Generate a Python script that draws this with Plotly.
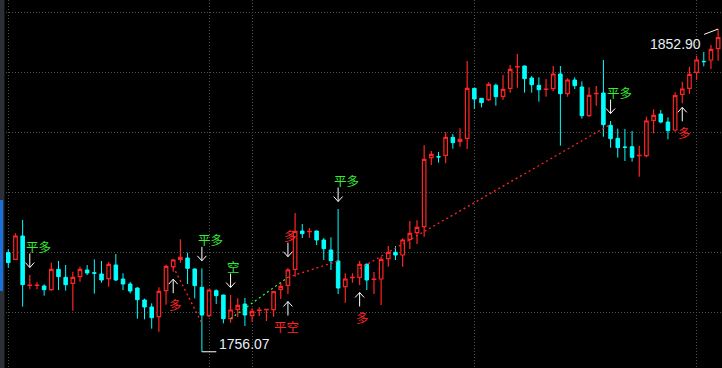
import plotly.graph_objects as go

# ---------------- data (prices) ----------------
opens = [1785.8, 1783.8, 1790.8, 1776.0, 1776.0, 1775.8, 1774.7, 1780.8, 1778.4, 1776.6,
         1778.6, 1780.6, 1779.8, 1779.4, 1778.0, 1782.1, 1777.9, 1776.4, 1775.2, 1771.6,
         1769.5, 1766.6, 1774.4, 1781.6, 1783.8, 1784.2, 1780.9, 1775.4, 1766.9, 1774.4,
         1773.1, 1766.0, 1768.8, 1770.4, 1766.9, 1768.5, 1768.7, 1768.7, 1774.8, 1776.0,
         1780.8, 1792.3, 1792.1, 1792.3, 1789.6, 1786.6, 1783.3, 1775.6, 1778.3, 1778.4,
         1782.3, 1777.8, 1777.9, 1784.0, 1785.9, 1785.1, 1789.8, 1791.8, 1793.6, 1814.3,
         1814.6, 1815.0, 1820.4, 1819.2, 1820.1, 1835.1, 1832.1, 1831.7, 1836.0, 1832.7,
         1835.1, 1841.5, 1841.8, 1838.2, 1836.0, 1834.8, 1835.0, 1839.4, 1833.5, 1837.6,
         1835.5, 1826.9, 1833.5, 1833.7, 1824.0, 1820.1, 1817.5, 1817.6, 1814.9, 1814.9,
         1825.5, 1827.4, 1825.0, 1822.6, 1833.3, 1835.1, 1839.9, 1843.2, 1843.6, 1847.0]
highs = [1786.8, 1791.6, 1795.6, 1779.1, 1776.9, 1776.3, 1782.8, 1783.3, 1782.1, 1780.1,
         1781.6, 1782.1, 1783.8, 1783.3, 1783.0, 1785.4, 1779.6, 1777.0, 1775.4, 1772.0,
         1770.6, 1775.4, 1782.2, 1783.9, 1789.8, 1785.8, 1781.1, 1781.1, 1774.8, 1774.8,
         1773.2, 1773.1, 1772.1, 1772.2, 1769.1, 1769.4, 1768.9, 1774.2, 1776.8, 1781.2,
         1797.7, 1794.4, 1793.2, 1792.4, 1790.2, 1790.4, 1798.9, 1779.6, 1779.6, 1783.3,
         1782.6, 1780.0, 1784.6, 1787.8, 1787.8, 1790.1, 1795.3, 1795.5, 1818.0, 1816.3,
         1816.0, 1821.9, 1821.4, 1823.1, 1843.3, 1835.2, 1832.2, 1836.9, 1836.5, 1839.1,
         1842.1, 1845.4, 1841.9, 1838.8, 1838.4, 1837.9, 1841.8, 1841.8, 1838.1, 1838.4,
         1837.2, 1835.4, 1835.8, 1843.6, 1825.3, 1823.0, 1822.9, 1822.3, 1817.9, 1826.6,
         1828.8, 1828.6, 1826.4, 1833.9, 1837.1, 1841.6, 1844.9, 1846.0, 1848.1, 1852.90]
lows = [1781.3, 1783.6, 1769.6, 1774.8, 1774.8, 1772.9, 1774.4, 1774.6, 1774.4, 1768.4,
        1777.1, 1779.1, 1773.5, 1776.8, 1775.6, 1777.3, 1774.6, 1773.6, 1766.0, 1765.8,
        1763.0, 1762.1, 1770.2, 1780.1, 1782.8, 1776.4, 1772.1, 1756.07, 1766.4, 1770.4,
        1764.6, 1764.8, 1766.5, 1763.8, 1765.1, 1766.8, 1765.3, 1766.6, 1771.9, 1773.4,
        1778.6, 1790.2, 1790.2, 1788.1, 1783.6, 1780.6, 1773.4, 1770.8, 1776.8, 1776.1,
        1774.6, 1773.4, 1770.1, 1781.6, 1783.6, 1781.6, 1786.9, 1788.4, 1790.6, 1812.1,
        1812.8, 1812.6, 1817.0, 1817.6, 1816.9, 1828.9, 1829.4, 1831.3, 1829.9, 1831.7,
        1833.8, 1835.3, 1833.8, 1833.8, 1831.1, 1832.6, 1834.2, 1817.9, 1832.6, 1834.9,
        1826.0, 1826.6, 1829.9, 1820.6, 1817.3, 1814.3, 1813.3, 1813.1, 1808.6, 1814.4,
        1821.6, 1824.6, 1819.8, 1822.1, 1830.6, 1833.4, 1837.6, 1841.7, 1840.9, 1843.4]
closes = [1782.8, 1790.8, 1776.2, 1776.1, 1776.1, 1774.7, 1780.8, 1778.6, 1776.2, 1778.4,
          1780.8, 1779.7, 1779.6, 1777.6, 1782.3, 1777.6, 1776.4, 1774.3, 1771.7, 1769.5,
          1766.3, 1774.2, 1781.7, 1783.6, 1784.4, 1781.1, 1775.9, 1767.1, 1774.6, 1772.9,
          1766.0, 1768.6, 1770.0, 1767.1, 1768.2, 1768.6, 1768.8, 1774.1, 1775.7, 1780.6,
          1792.2, 1791.5, 1792.2, 1789.6, 1787.0, 1783.4, 1775.2, 1777.9, 1778.4, 1782.3,
          1777.6, 1777.9, 1783.8, 1785.9, 1785.1, 1789.6, 1791.6, 1793.4, 1813.8, 1815.3,
          1814.5, 1820.4, 1818.8, 1819.8, 1835.1, 1831.9, 1830.8, 1836.3, 1832.6, 1834.8,
          1840.8, 1841.6, 1838.0, 1836.2, 1834.7, 1834.9, 1839.4, 1833.5, 1837.6, 1835.9,
          1826.9, 1833.0, 1833.6, 1824.2, 1820.0, 1817.3, 1817.4, 1814.4, 1815.0, 1825.3,
          1827.0, 1825.0, 1822.4, 1832.9, 1834.9, 1839.3, 1843.6, 1843.1, 1846.8, 1850.3]
bars = list(range(len(opens)))

# trade signals: bar index, side of the candle, label
sig_bar = [3, 23, 27, 31, 39, 39, 46, 49, 84, 94]
sig_side = ['above', 'below', 'above', 'above', 'above', 'below', 'above', 'below', 'above', 'below']
sig_text = ['平多', '多', '平多', '空', '多', '平空', '平多', '多', '平多', '多']

# trade connecting lines: (bar, price) -> (bar, price)
trade_from_bar = [23, 31, 39, 49]
trade_from_px = [1781.6, 1766.0, 1778.4, 1781.0]
trade_to_bar = [27, 39, 46, 84]
trade_to_px = [1764.6, 1778.4, 1783.3, 1824.3]
trade_kind = ['long', 'short', 'long', 'long']

vgrid_bars = [0, 28, 34, 65, 96]
hgrid_prices = [1768, 1786, 1804, 1822, 1840, 1858]

# ---------------- styling ----------------
W, H = 722, 368
PX_X = 1 / 7.17     # bar units per pixel
PX_Y = 0.3          # price units per pixel
Y_TOP = 1861.6
X_LEFT = -8.3 * PX_X

RED = '#ff2424'
CYAN = '#00ffff'
GREEN = '#33ee33'
GRID = '#505050'
CJK = 'Noto Sans CJK SC'

fig = go.Figure()
fig.add_trace(go.Candlestick(
    x=bars, open=opens, high=highs, low=lows, close=closes,
    increasing=dict(line=dict(color=RED, width=1.2), fillcolor='#000000'),
    decreasing=dict(line=dict(color=CYAN, width=1), fillcolor=CYAN),
    whiskerwidth=0, hoverinfo='skip', showlegend=False))

# trade lines
for b0, p0, b1, p1, k in zip(trade_from_bar, trade_from_px, trade_to_bar, trade_to_px, trade_kind):
    fig.add_trace(go.Scatter(x=[b0, b1], y=[p0, p1], mode='lines',
                             line=dict(color=RED if k == 'long' else GREEN, width=1.3, dash='2px,3px'),
                             hoverinfo='skip', showlegend=False))

# arrows + labels
ax, ay = [], []
annotations = []
gaps = {4: 11.3, 9: 4.0}
for n, (b, side, txt) in enumerate(zip(sig_bar, sig_side, sig_text)):
    gap = gaps.get(n, 7.5)
    hw = 4.5 * PX_X
    hh = 5 * PX_Y
    if side == 'above':
        tip = highs[b] + gap * PX_Y
        tail = tip + 14 * PX_Y
        ax += [b, b, None, b - hw, b, b + hw, None]
        ay += [tail, tip, None, tip + hh, tip, tip + hh, None]
        ty = tail + 7 * PX_Y
    else:
        tip = lows[b] - gap * PX_Y
        tail = tip - 14 * PX_Y
        ax += [b, b, None, b - hw, b, b + hw, None]
        ay += [tail, tip, None, tip - hh, tip, tip - hh, None]
        ty = tail - 11 * PX_Y
    color = GREEN if txt in ('平多', '空') else RED
    xoff = -14.6 if txt == '平空' else -5
    annotations.append(dict(x=b + xoff * PX_X, y=ty, text=txt, showarrow=False,
                            xanchor='left', yanchor='middle', borderpad=0,
                            font=dict(family=CJK, size=12.5, color=color)))

fig.add_trace(go.Scatter(x=ax, y=ay, mode='lines', line=dict(color='#ffffff', width=1),
                         hoverinfo='skip', showlegend=False))

# extreme value labels
lo_i = lows.index(min(lows))
hi_i = highs.index(max(highs))
fig.add_trace(go.Scatter(x=[lo_i, lo_i + 14.4 * PX_X], y=[lows[lo_i], lows[lo_i]], mode='lines',
                         line=dict(color='#ffffff', width=1), hoverinfo='skip', showlegend=False))
fig.add_trace(go.Scatter(x=[hi_i, hi_i - 14 * PX_X], y=[highs[hi_i], highs[hi_i] - 5.4 * PX_Y],
                         mode='lines', line=dict(color='#ffffff', width=1),
                         hoverinfo='skip', showlegend=False))
annotations.append(dict(x=lo_i + 15.7 * PX_X, y=lows[lo_i] + 7.8 * PX_Y, text=f'{min(lows):.2f}',
                        showarrow=False, xanchor='left', yanchor='middle', borderpad=0,
                        font=dict(family='Liberation Sans', size=14, color='#e6eef6')))
annotations.append(dict(x=hi_i - 16.3 * PX_X, y=highs[hi_i] - 15.2 * PX_Y, text=f'{max(highs):.2f}',
                        showarrow=False, xanchor='right', yanchor='middle', borderpad=0,
                        font=dict(family='Liberation Sans', size=14, color='#e6eef6')))

shapes = [
    dict(type='rect', xref='paper', yref='paper', x0=0, x1=4.5 / W, y0=0, y1=1,
         fillcolor='#2c2f36', line=dict(width=0), layer='above'),
    dict(type='rect', xref='paper', yref='paper', x0=0, x1=3 / W, y0=1 - 291 / H, y1=1 - 200 / H,
         fillcolor='#1b6fd8', line=dict(width=0), layer='above'),
]

fig.update_layout(
    width=W, height=H, margin=dict(l=0, r=0, t=0, b=0),
    paper_bgcolor='#000000', plot_bgcolor='#000000',
    showlegend=False, annotations=annotations, shapes=shapes,
    xaxis=dict(range=[X_LEFT, X_LEFT + W * PX_X], rangeslider=dict(visible=False),
               showticklabels=False, ticks='', zeroline=False, showline=False,
               tickvals=vgrid_bars, showgrid=True, gridcolor=GRID, griddash='1px,2px', gridwidth=1),
    yaxis=dict(range=[Y_TOP - H * PX_Y, Y_TOP], showticklabels=False, ticks='',
               zeroline=False, showline=False, tickvals=hgrid_prices,
               showgrid=True, gridcolor=GRID, griddash='1px,2px', gridwidth=1),
)

fig.write_html('out.html')
